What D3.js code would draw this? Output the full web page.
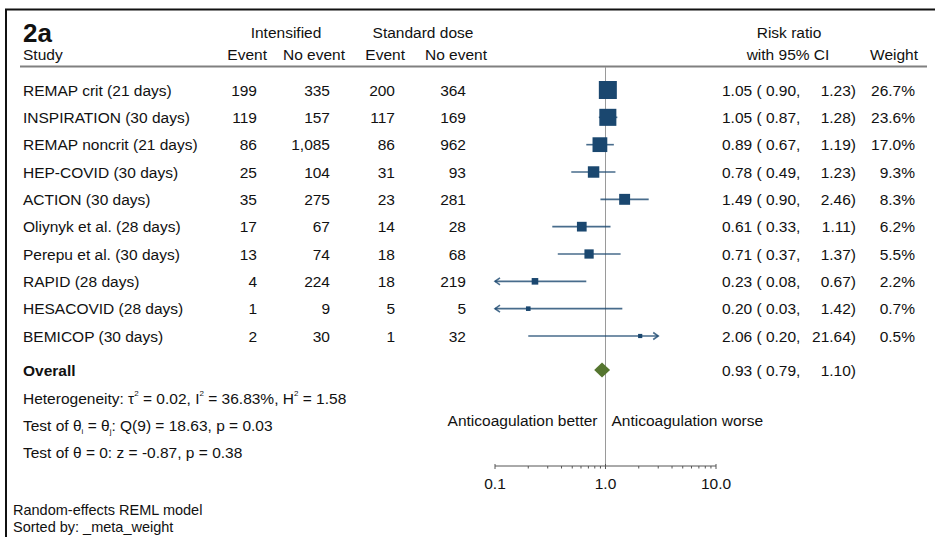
<!DOCTYPE html>
<html>
<head>
<meta charset="utf-8">
<script src="https://cdn.jsdelivr.net/npm/d3@7/dist/d3.min.js"></script>
<style>
  html, body { margin: 0; padding: 0; background: #fff; }
  svg { display: block; }
  text { font-family: "Liberation Sans", Arial, sans-serif; fill: #111; }
</style>
</head>
<body>
<svg id="chart" width="935" height="537"></svg>
<script>
// Study-level data (sorted by meta-analysis weight)
const studies = ["REMAP crit (21 days)", "INSPIRATION (30 days)", "REMAP noncrit (21 days)",
  "HEP-COVID (30 days)", "ACTION (30 days)", "Oliynyk et al. (28 days)", "Perepu et al. (30 days)",
  "RAPID (28 days)", "HESACOVID (28 days)", "BEMICOP (30 days)"];
const intEvent   = [199, 119, 86, 25, 35, 17, 13, 4, 1, 2];
const intNoEvent = [335, 157, 1085, 104, 275, 67, 74, 224, 9, 30];
const stdEvent   = [200, 117, 86, 31, 23, 14, 18, 18, 5, 1];
const stdNoEvent = [364, 169, 962, 93, 281, 28, 68, 219, 5, 32];
const riskRatio  = [1.05, 1.05, 0.89, 0.78, 1.49, 0.61, 0.71, 0.23, 0.20, 2.06];
const ciLower    = [0.90, 0.87, 0.67, 0.49, 0.90, 0.33, 0.37, 0.08, 0.03, 0.20];
const ciUpper    = [1.23, 1.28, 1.19, 1.23, 2.46, 1.11, 1.37, 0.67, 1.42, 21.64];
const weightPct  = [26.7, 23.6, 17.0, 9.3, 8.3, 6.2, 5.5, 2.2, 0.7, 0.5];

// Pooled estimate
const overall = { rr: 0.93, lo: 0.79, hi: 1.10 };

// Axis ticks and the range beyond which CIs are drawn as arrows
const axisTicks = [0.1, 1, 10];
const ciClip = [0.1, 3];

const navy = "#1a476f";
const green = "#55752f";

const svg = d3.select("#chart");

const x = d3.scaleLog().domain([0.1, 10]).range([495, 716]);
const y = d3.scalePoint().domain(studies).range([90, 336]);
const boxSide = d3.scaleSqrt().domain([0, 26.7]).range([0, 16]);
const fmt2 = d3.format(".2f");
const fmtN = d3.format(",");

// Frame (top and left rules)
svg.append("line").attr("x1", 5).attr("x2", 935).attr("y1", 9.5).attr("y2", 9.5)
  .attr("stroke", "#111").attr("stroke-width", 2);
svg.append("line").attr("x1", 6).attr("x2", 6).attr("y1", 9).attr("y2", 537)
  .attr("stroke", "#111").attr("stroke-width", 2);

// Title and header
const fs = "15.5px";
svg.append("text").attr("x", 23).attr("y", 42).text("2a")
  .style("font-size", "26px").style("font-weight", "bold");
const header = [
  { t: "Intensified", x: 286, y: 38, a: "middle" },
  { t: "Standard dose", x: 423, y: 38, a: "middle" },
  { t: "Risk ratio", x: 789, y: 38, a: "middle" },
  { t: "Study", x: 23, y: 60, a: "start" },
  { t: "Event", x: 267, y: 60, a: "end" },
  { t: "No event", x: 345, y: 60, a: "end" },
  { t: "Event", x: 405, y: 60, a: "end" },
  { t: "No event", x: 487, y: 60, a: "end" },
  { t: "with 95% CI", x: 788, y: 60, a: "middle" },
  { t: "Weight", x: 918, y: 60, a: "end" }
];
svg.selectAll("text.hdr").data(header).join("text").attr("class", "hdr")
  .attr("x", d => d.x).attr("y", d => d.y).attr("text-anchor", d => d.a)
  .style("font-size", fs).text(d => d.t);
svg.append("line").attr("x1", 20).attr("x2", 927).attr("y1", 66.5).attr("y2", 66.5)
  .attr("stroke", "#808080").attr("stroke-width", 2);

// Line of no effect
svg.append("line").attr("x1", x(1)).attr("x2", x(1)).attr("y1", 67).attr("y2", 466)
  .attr("stroke", "#9a9a9a").attr("stroke-width", 1);

// Study rows: text columns
const rows = studies.map((s, i) => ({
  s, i, ie: intEvent[i], ine: intNoEvent[i], se: stdEvent[i], sne: stdNoEvent[i],
  rr: riskRatio[i], lo: ciLower[i], hi: ciUpper[i], w: weightPct[i]
}));
const g = svg.selectAll("g.row").data(rows).join("g").attr("class", "row")
  .attr("transform", d => `translate(0,${y(d.s)})`);
const cols = [
  { x: 23, a: "start", f: d => d.s },
  { x: 257, a: "end", f: d => fmtN(d.ie) },
  { x: 330, a: "end", f: d => fmtN(d.ine) },
  { x: 395, a: "end", f: d => fmtN(d.se) },
  { x: 466, a: "end", f: d => fmtN(d.sne) },
  { x: 722, a: "start", f: d => `${fmt2(d.rr)} ( ${fmt2(d.lo)},` },
  { x: 856, a: "end", f: d => `${fmt2(d.hi)})` },
  { x: 915, a: "end", f: d => `${d.w.toFixed(1)}%` }
];
cols.forEach(c => {
  g.append("text").attr("x", c.x).attr("y", 5.5).attr("text-anchor", c.a)
    .style("font-size", fs).text(c.f);
});

// CI lines, clipped with arrowheads
g.append("line")
  .attr("x1", d => x(Math.max(d.lo, ciClip[0])))
  .attr("x2", d => x(Math.min(d.hi, ciClip[1])))
  .attr("y1", 0).attr("y2", 0)
  .attr("stroke", navy).attr("stroke-opacity", 0.8).attr("stroke-width", 1.6);
g.filter(d => d.lo < ciClip[0]).append("path")
  .attr("d", () => { const x0 = x(ciClip[0]); return `M${x0 + 5},-3.5L${x0},0L${x0 + 5},3.5`; })
  .attr("fill", "none").attr("stroke", navy).attr("stroke-opacity", 0.8).attr("stroke-width", 1.6);
g.filter(d => d.hi > ciClip[1]).append("path")
  .attr("d", () => { const x1 = x(ciClip[1]); return `M${x1 - 5},-3.5L${x1},0L${x1 - 5},3.5`; })
  .attr("fill", "none").attr("stroke", navy).attr("stroke-opacity", 0.8).attr("stroke-width", 1.6);

// Weighted squares
g.append("rect")
  .attr("x", d => x(d.rr) - (boxSide(d.w) + 2) / 2)
  .attr("y", d => -(boxSide(d.w) + 2) / 2)
  .attr("width", d => boxSide(d.w) + 2)
  .attr("height", d => boxSide(d.w) + 2)
  .attr("fill", navy);

// Overall estimate
const yO = 370;
svg.append("text").attr("x", 23).attr("y", yO + 5.5).style("font-size", fs)
  .style("font-weight", "bold").text("Overall");
svg.append("path")
  .attr("d", `M${x(overall.lo)},${yO}L${x(overall.rr)},${yO - 7.5}L${x(overall.hi)},${yO}L${x(overall.rr)},${yO + 7.5}Z`)
  .attr("fill", green);
svg.append("text").attr("x", 722).attr("y", yO + 5.5).style("font-size", fs)
  .text(`${fmt2(overall.rr)} ( ${fmt2(overall.lo)},`);
svg.append("text").attr("x", 856).attr("y", yO + 5.5).attr("text-anchor", "end")
  .style("font-size", fs).text(`${fmt2(overall.hi)})`);

// Heterogeneity and tests
const het = svg.append("text").attr("x", 23).attr("y", 403.5).style("font-size", fs);
const sup = t => het.append("tspan").attr("dy", -8).style("font-size", "8px").text(t);
const norm = t => het.append("tspan").attr("dy", 8).text(t);
het.append("tspan").text("Heterogeneity: τ");
sup("2"); norm(" = 0.02, I");
sup("2"); norm(" = 36.83%, H");
sup("2"); norm(" = 1.58");

const t1 = svg.append("text").attr("x", 23).attr("y", 430.5).style("font-size", fs);
t1.append("tspan").text("Test of θ");
t1.append("tspan").attr("dy", 3).style("font-size", "8px").text("i");
t1.append("tspan").attr("dy", -3).text(" = θ");
t1.append("tspan").attr("dy", 3).style("font-size", "8px").text("j");
t1.append("tspan").attr("dy", -3).text(": Q(9) = 18.63, p = 0.03");

svg.append("text").attr("x", 23).attr("y", 457.5).style("font-size", fs)
  .text("Test of θ = 0: z = -0.87, p = 0.38");

// Direction labels
svg.append("text").attr("x", x(1) - 8).attr("y", 426).attr("text-anchor", "end")
  .style("font-size", fs).text("Anticoagulation better");
svg.append("text").attr("x", x(1) + 6).attr("y", 426).attr("text-anchor", "start")
  .style("font-size", fs).text("Anticoagulation worse");

// Log axis at the bottom
const axisY = 466;
const minorTicks = [];
[0.1, 1].forEach(b => { for (let k = 2; k <= 9; k++) minorTicks.push(b * k); });
const ax = svg.append("g");
ax.append("line").attr("x1", x(0.1)).attr("x2", x(10)).attr("y1", axisY).attr("y2", axisY)
  .attr("stroke", "#555").attr("stroke-width", 1);
ax.selectAll("line.minor").data(minorTicks).join("line").attr("class", "minor")
  .attr("x1", d => x(d)).attr("x2", d => x(d)).attr("y1", axisY).attr("y2", axisY + 2.5)
  .attr("stroke", "#555").attr("stroke-width", 1);
ax.selectAll("line.major").data(axisTicks).join("line").attr("class", "major")
  .attr("x1", d => x(d)).attr("x2", d => x(d)).attr("y1", axisY - 2).attr("y2", axisY + 3)
  .attr("stroke", "#555").attr("stroke-width", 1);
ax.selectAll("text").data(axisTicks).join("text")
  .attr("x", d => x(d)).attr("y", 489).attr("text-anchor", "middle")
  .style("font-size", fs).text(d => d.toFixed(1));

// Footnotes
svg.append("text").attr("x", 13).attr("y", 515).style("font-size", "14.5px").text("Random-effects REML model");
svg.append("text").attr("x", 13).attr("y", 532).style("font-size", "14.5px").text("Sorted by: _meta_weight");
</script>
</body>
</html>
